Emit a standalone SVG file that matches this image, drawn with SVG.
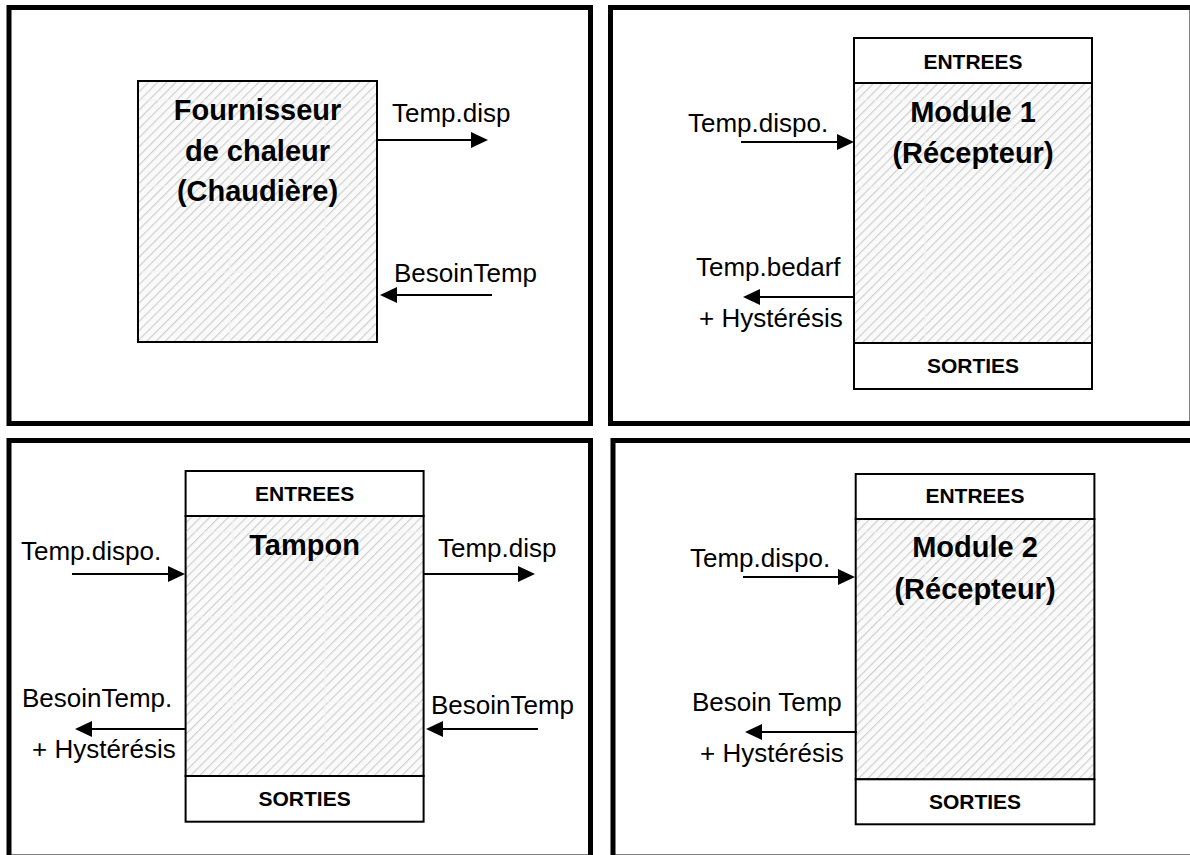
<svg xmlns="http://www.w3.org/2000/svg" width="1190" height="855" viewBox="0 0 1190 855">
<style>
.frame{fill:none;stroke:#000;stroke-width:5}
.box{stroke:#000;stroke-width:2}
.hatch{fill:url(#hatch);stroke:#000;stroke-width:2}
.cell{fill:#fff;stroke:#000;stroke-width:2}
.grid{stroke:#f4f4f4;stroke-width:1.2;fill:none}
.lbl{font-family:"Liberation Sans",Arial,sans-serif;font-size:26px;fill:#000}
.title{font-family:"Liberation Sans",Arial,sans-serif;font-size:29px;font-weight:bold;fill:#000;text-anchor:middle}
.hdr{font-family:"Liberation Sans",Arial,sans-serif;font-size:21px;font-weight:bold;fill:#000;text-anchor:middle}
.arrow{stroke:#000;stroke-width:2.2;fill:none;marker-end:url(#ah)}
</style>
<defs>
<pattern id="hatch" patternUnits="userSpaceOnUse" width="6.5" height="6.5" patternTransform="rotate(45)">
<rect width="6.5" height="6.5" fill="#fafafa"/>
<line x1="0" y1="0" x2="0" y2="6.5" stroke="#d0d0d0" stroke-width="2.4"/>
</pattern>
<marker id="ah" markerUnits="userSpaceOnUse" markerWidth="17" markerHeight="16" refX="7" refY="8" orient="auto">
<path d="M0,0 L17,8 L0,16 Z" fill="#000"/>
</marker>
</defs>
<rect width="1190" height="855" fill="#fff"/>

<g id="frames">
<rect class="frame" x="9" y="7.5" width="581.5" height="416"/>
<rect class="frame" x="610.5" y="7.5" width="581.5" height="416"/>
<rect class="frame" x="9" y="440.5" width="581.5" height="416.5"/>
<rect class="frame" x="613" y="440.5" width="582" height="416.5"/>
</g>

<g id="fournisseur">
<rect class="hatch" x="138" y="81" width="239" height="261"/>
<path class="grid" d="M139,100H376M139,186H376M139,272H376M230,82V341M325,82V341"/>
<rect x="138" y="81" width="239" height="261" fill="none" class="box"/>
<text class="title" x="257.5" y="120">Fournisseur</text>
<text class="title" x="257.5" y="161">de chaleur</text>
<text class="title" x="257.5" y="201">(Chaudière)</text>
</g>

<g id="module1">
<rect class="hatch" x="854" y="83" width="238" height="260"/>
<path class="grid" d="M855,100H1091M855,187H1091M855,272H1091M925,84V342M1012,84V342"/>
<rect class="cell" x="854" y="38" width="238" height="45"/>
<rect class="cell" x="854" y="343" width="238" height="46"/>
<text class="hdr" x="973" y="69">ENTREES</text>
<text class="hdr" x="973" y="373">SORTIES</text>
<text class="title" x="973" y="122">Module 1</text>
<text class="title" x="973" y="163">(Récepteur)</text>
</g>

<g id="tampon">
<rect class="hatch" x="185.6" y="516" width="238" height="260"/>
<path class="grid" d="M186.6,532H422.6M186.6,617H422.6M186.6,702H422.6M233,517V775M325,517V775"/>
<rect class="cell" x="185.6" y="471" width="238" height="45"/>
<rect class="cell" x="185.6" y="776" width="238" height="45.7"/>
<text class="hdr" x="304.6" y="501">ENTREES</text>
<text class="hdr" x="304.6" y="806">SORTIES</text>
<text class="title" x="304.6" y="555">Tampon</text>
</g>

<g id="module2">
<rect class="hatch" x="855.7" y="519" width="238.7" height="260.3"/>
<path class="grid" d="M856.7,532H1093.4M856.7,617H1093.4M856.7,702H1093.4M925,520V778M1012,520V778"/>
<rect class="cell" x="855.7" y="474" width="238.7" height="45"/>
<rect class="cell" x="855.7" y="779.3" width="238.7" height="45"/>
<text class="hdr" x="975" y="503">ENTREES</text>
<text class="hdr" x="975" y="809">SORTIES</text>
<text class="title" x="975" y="557">Module 2</text>
<text class="title" x="975" y="599">(Récepteur)</text>
</g>

<g id="connectors">
<path class="arrow" d="M377,140H478"/>
<path class="arrow" d="M492,295H390"/>
<path class="arrow" d="M741,142H844"/>
<path class="arrow" d="M855,297H753"/>
<path class="arrow" d="M72,574H175"/>
<path class="arrow" d="M424,574H525"/>
<path class="arrow" d="M186,729H85"/>
<path class="arrow" d="M538,729H436"/>
<path class="arrow" d="M743,577H845"/>
<path class="arrow" d="M857,732H755"/>
</g>

<g id="labels">
<text class="lbl" x="392" y="122">Temp.disp</text>
<text class="lbl" x="394" y="282">BesoinTemp</text>
<text class="lbl" x="688" y="132">Temp.dispo.</text>
<text class="lbl" x="696" y="276">Temp.bedarf</text>
<text class="lbl" x="699" y="327">+ Hystérésis</text>
<text class="lbl" x="21" y="560">Temp.dispo.</text>
<text class="lbl" x="438" y="557">Temp.disp</text>
<text class="lbl" x="22" y="707">BesoinTemp.</text>
<text class="lbl" x="32" y="758">+ Hystérésis</text>
<text class="lbl" x="431" y="714">BesoinTemp</text>
<text class="lbl" x="690" y="567">Temp.dispo.</text>
<text class="lbl" x="692" y="711">Besoin Temp</text>
<text class="lbl" x="700" y="762">+ Hystérésis</text>
</g>
</svg>
